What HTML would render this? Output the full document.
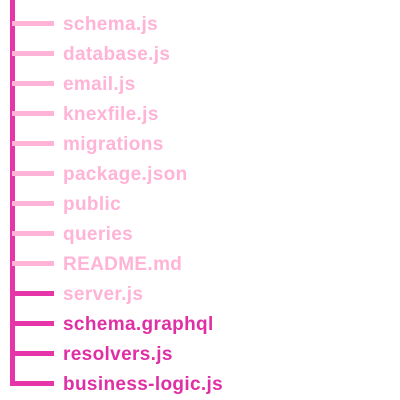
<!DOCTYPE html>
<html><head><style>
body{margin:0;width:400px;height:400px;background:#fff;position:relative;overflow:hidden;font-family:"Liberation Sans",sans-serif}
.v{position:absolute;left:10px;top:0;width:5px;height:386px;background:#e535a8}
.h{position:absolute;left:12px;width:42px;height:5px}
.t{position:absolute;left:63px;font-size:19px;font-weight:bold;line-height:20px;letter-spacing:0.35px;margin-top:2px}
.l{background:#ffb3d6}.d{background:#e535a8}
.lt{color:#ffb3d6}.dt{color:#e02fa5}
</style></head><body>
<div class="v"></div>
<div class="h l" style="top:21px"></div><div class="t lt" style="top:13px">schema.js</div>
<div class="h l" style="top:51px"></div><div class="t lt" style="top:43px">database.js</div>
<div class="h l" style="top:81px"></div><div class="t lt" style="top:73px">email.js</div>
<div class="h l" style="top:111px"></div><div class="t lt" style="top:103px">knexfile.js</div>
<div class="h l" style="top:141px"></div><div class="t lt" style="top:133px">migrations</div>
<div class="h l" style="top:171px"></div><div class="t lt" style="top:163px">package.json</div>
<div class="h l" style="top:201px"></div><div class="t lt" style="top:193px">public</div>
<div class="h l" style="top:231px"></div><div class="t lt" style="top:223px">queries</div>
<div class="h l" style="top:261px"></div><div class="t lt" style="top:253px">README.md</div>
<div class="h d" style="top:291px"></div><div class="t lt" style="top:283px">server.js</div>
<div class="h d" style="top:321px"></div><div class="t dt" style="top:313px">schema.graphql</div>
<div class="h d" style="top:351px"></div><div class="t dt" style="top:343px">resolvers.js</div>
<div class="h d" style="top:381px"></div><div class="t dt" style="top:373px">business-logic.js</div>
</body></html>
